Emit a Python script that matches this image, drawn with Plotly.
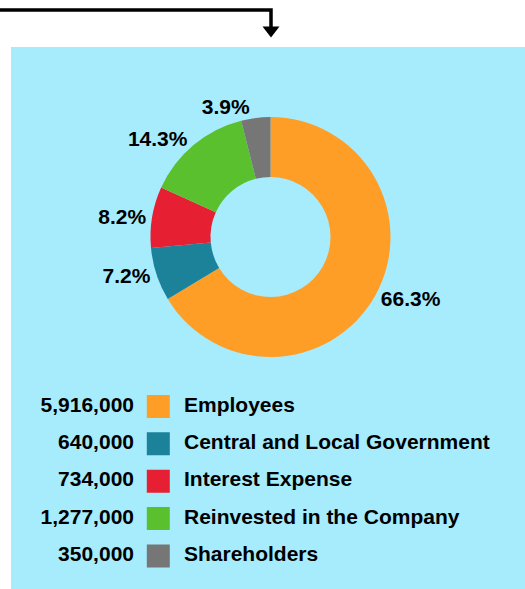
import plotly.graph_objects as go

# Distribution of value added
categories = ["Employees", "Central and Local Government", "Interest Expense",
              "Reinvested in the Company", "Shareholders"]
amounts = [5916000, 640000, 734000, 1277000, 350000]
colors = ["#FF9E27", "#1B8299", "#E61F33", "#5BC02D", "#767676"]
amount_labels = [f"{v:,}" for v in amounts]

W, H = 525, 589
FONT = "Liberation Sans, Arial, sans-serif"


def px_x(x):
    return x / W


def px_y(y):
    return 1 - y / H


fig = go.Figure()

# Donut
cx, cy, r = 270.5, 237, 120
fig.add_trace(go.Pie(
    labels=categories,
    values=amounts,
    marker=dict(colors=colors, line=dict(width=0)),
    hole=0.5,
    sort=False,
    direction="clockwise",
    rotation=0,
    textposition="outside",
    texttemplate="%{percent:.1%}",
    textfont=dict(family=FONT, size=21, color="black", weight="bold"),
    domain=dict(x=[px_x(cx - r), px_x(cx + r)], y=[px_y(cy + r), px_y(cy - r)]),
    showlegend=False,
    hoverinfo="label+value+percent",
))

# Legend rows: amount, colour swatch, category name
rows = list(range(len(categories)))
fig.add_trace(go.Scatter(
    x=[134] * len(rows), y=rows, mode="text", text=amount_labels,
    textposition="middle left",
    textfont=dict(family=FONT, size=21, color="black", weight="bold"),
    showlegend=False, hoverinfo="skip",
))
fig.add_trace(go.Scatter(
    x=[158.3] * len(rows), y=rows, mode="markers",
    marker=dict(symbol="square", size=23, color=colors, line=dict(width=0)),
    showlegend=False, hoverinfo="skip",
))
fig.add_trace(go.Scatter(
    x=[184] * len(rows), y=rows, mode="text", text=categories,
    textposition="middle right",
    textfont=dict(family=FONT, size=21, color="black", weight="bold"),
    showlegend=False, hoverinfo="skip",
))

row_top, row_step = 406.5, 37.35
fig.update_xaxes(range=[0, W], domain=[0, 1], visible=False, fixedrange=True)
fig.update_yaxes(range=[len(rows) - 0.5, -0.5],
                 domain=[px_y(row_top + (len(rows) - 0.5) * row_step),
                         px_y(row_top - 0.5 * row_step)],
                 visible=False, fixedrange=True)

shapes = [
    # light blue panel
    dict(type="rect", xref="paper", yref="paper",
         x0=px_x(11), x1=1, y0=0, y1=px_y(47),
         fillcolor="#A6ECFC", line=dict(width=0), layer="below"),
    # connector line with arrow
    dict(type="path", xref="paper", yref="paper",
         path=f"M {px_x(0)},{px_y(10)} L {px_x(271)},{px_y(10)} L {px_x(271)},{px_y(28)}",
         line=dict(color="black", width=3.5)),
    dict(type="path", xref="paper", yref="paper",
         path=(f"M {px_x(262.5)},{px_y(26.5)} L {px_x(279.5)},{px_y(26.5)} "
               f"L {px_x(271)},{px_y(37.5)} Z"),
         fillcolor="black", line=dict(color="black", width=0)),
]

fig.update_layout(
    width=W, height=H,
    margin=dict(l=0, r=0, t=0, b=0),
    paper_bgcolor="white", plot_bgcolor="rgba(0,0,0,0)",
    shapes=shapes,
    font=dict(family=FONT),
)

fig.write_html("out.html")
